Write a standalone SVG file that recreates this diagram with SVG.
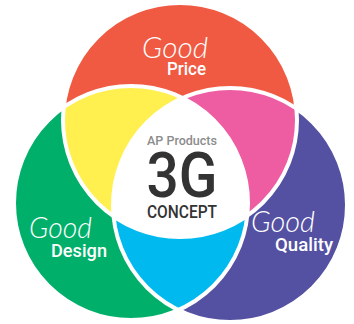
<svg xmlns="http://www.w3.org/2000/svg" width="354" height="324" viewBox="0 0 354 324">
<style>
.good{font-family:"Lato","Open Sans","DejaVu Sans",sans-serif;font-style:italic;font-weight:300;fill:#fff;font-size:29px}
.lbl{font-family:"Roboto","DejaVu Sans",sans-serif;font-weight:500;fill:#fff;font-size:17.5px}
.ctr{font-family:"Roboto","DejaVu Sans",sans-serif;font-weight:500;text-anchor:middle}
.ring{fill:none;stroke:#fff;stroke-width:4}
</style>
<defs>
<circle id="cr" cx="180" cy="120" r="117"/>
<circle id="cg" cx="131" cy="203" r="117"/>
<circle id="cp" cx="230" cy="205" r="117"/>
<clipPath id="clipR"><use href="#cr"/></clipPath>
<clipPath id="clipG"><use href="#cg"/></clipPath>
<clipPath id="clipP"><use href="#cp"/></clipPath>
</defs>
<rect width="354" height="324" fill="#fff"/>
<g id="price">
<use href="#cr" fill="#F15A42"/>
</g>
<g id="design">
<use href="#cg" fill="#00B06A"/>
</g>
<g id="quality">
<use href="#cp" fill="#5450A2"/>
</g>
<g id="overlap-yellow" clip-path="url(#clipR)"><use href="#cg" fill="#FFF04F"/></g>
<g id="overlap-pink" clip-path="url(#clipR)"><use href="#cp" fill="#EE5CA2"/></g>
<g id="overlap-cyan" clip-path="url(#clipG)"><use href="#cp" fill="#00B9EF"/></g>
<g id="center" clip-path="url(#clipR)"><g clip-path="url(#clipG)"><use href="#cp" fill="#fff"/></g></g>
<g id="connectors">
<use href="#cr" class="ring"/>
<use href="#cg" class="ring"/>
<use href="#cp" class="ring"/>
</g>
<g id="price-text">
<text class="good" x="142" y="58" textLength="66" lengthAdjust="spacingAndGlyphs">Good</text>
<text class="lbl" x="167" y="75" textLength="39" lengthAdjust="spacingAndGlyphs">Price</text>
</g>
<g id="design-text">
<text class="good" x="29" y="238" textLength="63" lengthAdjust="spacingAndGlyphs">Good</text>
<text class="lbl" x="51" y="257" textLength="56" lengthAdjust="spacingAndGlyphs">Design</text>
</g>
<g id="quality-text">
<text class="good" x="251" y="232" textLength="64" lengthAdjust="spacingAndGlyphs">Good</text>
<text class="lbl" x="275" y="251" textLength="58" lengthAdjust="spacingAndGlyphs">Quality</text>
</g>
<g id="center-text">
<text class="ctr" x="182" y="145" font-size="12.5" fill="#8C8C8C" textLength="70" lengthAdjust="spacingAndGlyphs">AP Products</text>
<text class="ctr" x="182" y="197" font-size="63" fill="#333" textLength="71" lengthAdjust="spacingAndGlyphs">3G</text>
<text class="ctr" x="182" y="218" font-size="17.5" fill="#333" textLength="70" lengthAdjust="spacingAndGlyphs">CONCEPT</text>
</g>
</svg>
